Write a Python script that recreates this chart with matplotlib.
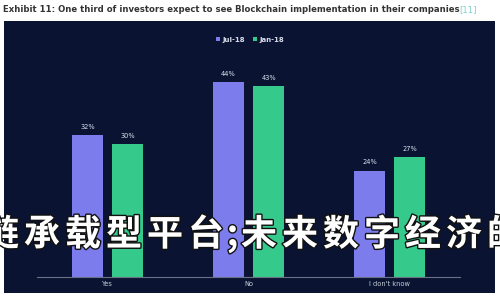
import matplotlib.pyplot as plt
import matplotlib.patheffects as pe
from matplotlib.patches import Rectangle
import numpy as np

# Chart data
categories = ['Yes', 'No', "I don't know"]
jul_18 = [32, 44, 24]
jan_18 = [30, 43, 27]
series_names = ['Jul-18', 'Jan-18']
title = 'Exhibit 11: One third of investors expect to see Blockchain implementation in their companies'
overlay_text = '区块链承载型平台;未来数字经济的'

navy = '#0a1432'
purple = '#7d7cec'
green = '#35ca8b'

plt.rcParams['font.family'] = ['DejaVu Sans']

fig = plt.figure(figsize=(5, 3), dpi=100)
fig.patch.set_facecolor('white')

# dark panel behind the chart
fig.patches.append(Rectangle((0.008, 0.023), 0.982, 0.907, transform=fig.transFigure,
                             facecolor=navy, edgecolor='none', zorder=-5))

# title above the panel
fig.text(0.006, 0.968, title, fontsize=6.1, fontweight='bold', color='#333333',
         va='center', ha='left')
fig.text(0.918, 0.968, '[11]', fontsize=6.1, color='#7fd0c8', va='center', ha='left')

ax = fig.add_axes([0.074, 0.077, 0.846, 0.738])
ax.set_facecolor('none')
ax.set_zorder(1)
x = np.arange(len(categories))
w = 0.22
off = 0.142
b1 = ax.bar(x - off, jul_18, w, color=purple, label=series_names[0])
b2 = ax.bar(x + off, jan_18, w, color=green, label=series_names[1])
for bars, vals in ((b1, jul_18), (b2, jan_18)):
    for b, v in zip(bars, vals):
        ax.text(b.get_x() + b.get_width() / 2, v + 1.2, f'{v}%', ha='center', va='bottom',
                fontsize=4.8, color='#dde0ee')

ax.set_xlim(-0.5, 2.5)
ax.set_ylim(0, 50)
ax.set_xticks(x)
ax.set_xticklabels(categories, fontsize=4.8, color='#c8ccd8')
ax.tick_params(axis='x', length=0, pad=3)
ax.set_yticks([])
for s in ('top', 'right', 'left'):
    ax.spines[s].set_visible(False)
ax.spines['bottom'].set_color('#6a7088')
ax.spines['bottom'].set_linewidth(0.8)

leg = fig.legend(loc='center', bbox_to_anchor=(0.5, 0.868), ncol=2, frameon=False,
                 fontsize=5, handlelength=0.6, handleheight=0.6, handletextpad=0.3,
                 columnspacing=1.2)
for t in leg.get_texts():
    t.set_color('#d8dcea')
    t.set_fontweight('bold')

# big overlay caption, one character at a time
px = -101.5
for ch in overlay_text:
    adv = 12 if ch == ';' else 41
    cx = px + adv / 2
    t = fig.text(cx / 500, 1 - 235 / 300, ch, fontsize=26, fontweight='heavy', color='white',
                 family=['Noto Sans CJK SC', 'DejaVu Sans'], ha='center', va='center',
                 path_effects=[pe.withStroke(linewidth=2, foreground='#111111')])
    t.set_zorder(5)
    px += adv

fig.savefig('out.png', dpi=100, facecolor='white')
